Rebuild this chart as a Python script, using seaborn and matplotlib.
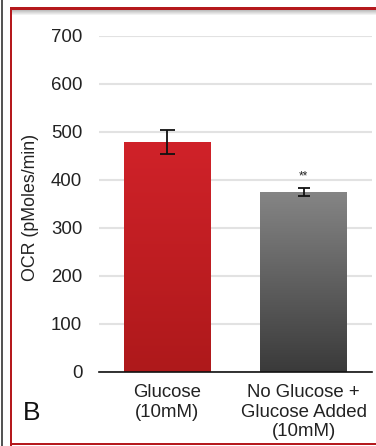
import numpy as np
import pandas as pd
import matplotlib
matplotlib.use("Agg")
import matplotlib.pyplot as plt
from matplotlib.patches import Rectangle
from matplotlib.colors import LinearSegmentedColormap
import seaborn as sns

# Oxygen consumption rate per condition
categories = ["Glucose\n(10mM)", "No Glucose +\nGlucose Added\n(10mM)"]
ocr_values = [478, 375]
ocr_errors = [25, 8]
significance = ["", "**"]
y_ticks = [0, 100, 200, 300, 400, 500, 600, 700]

sns.set_theme(style="white")
plt.rcParams["font.family"] = ["Liberation Sans", "DejaVu Sans"]

W, H = 376, 446
fig = plt.figure(figsize=(W / 100, H / 100), dpi=100)
ax = fig.add_axes([99 / W, 1 - 371.7 / H, (372 - 99) / W, (371.7 - 36) / H])

df = pd.DataFrame({"condition": categories, "ocr": ocr_values})
sns.barplot(data=df, x="condition", y="ocr", hue="condition",
            palette=["#c41e24", "#5e5e5e"], width=0.635, legend=False,
            errorbar=None, ax=ax, zorder=3)

# vertical gradient fill for each bar
gradients = [("#d02229", "#ae191b"), ("#858585", "#3a3a3a")]
for patch, (top, bottom) in zip(ax.patches, gradients):
    x0, y0 = patch.get_x(), patch.get_y()
    w, h = patch.get_width(), patch.get_height()
    cmap = LinearSegmentedColormap.from_list("g", [bottom, top])
    grad = np.linspace(0, 1, 256).reshape(-1, 1)
    im = ax.imshow(grad, cmap=cmap, origin="lower", aspect="auto",
                   extent=[x0, x0 + w, y0, y0 + h], zorder=3.5)
    im.set_clip_path(patch)
    patch.set_edgecolor("none")

for i, (v, e, cap) in enumerate(zip(ocr_values, ocr_errors, [5.4, 4.0])):
    ax.errorbar(i, v, yerr=e, fmt="none", ecolor="#111111", elinewidth=1.3,
                capsize=cap, capthick=1.3, zorder=5)
for i, (v, e, s) in enumerate(zip(ocr_values, ocr_errors, significance)):
    if s:
        ax.text(i, v + e + 12, s, ha="center", va="bottom", fontsize=8.5,
                color="#222222", zorder=6)

ax.set_xlim(-0.5, 1.5)
ax.set_ylim(0, 700)
ax.set_yticks(y_ticks)
ax.yaxis.grid(True, color="#e2e2e2", linewidth=1.5, zorder=0)
ax.set_axisbelow(True)
for side in ["left", "right", "top"]:
    ax.spines[side].set_visible(False)
ax.spines["bottom"].set_color("#111111")
ax.spines["bottom"].set_linewidth(1.2)
ax.spines["bottom"].set_zorder(6)
ax.tick_params(axis="both", length=0, labelsize=13.4, colors="#222222")
ax.tick_params(axis="y", pad=12)
ax.tick_params(axis="x", pad=9)
for lab in ax.get_xticklabels():
    lab.set_linespacing(1.2)
ax.set_xlabel("")
ax.set_ylabel("OCR (pMoles/min)", fontsize=12.8, color="#222222")
ax.yaxis.set_label_coords(-0.218, 0.49)

# panel letter
fig.text(22.5 / W, 1 - 413 / H, "B", fontsize=19, color="#111111", va="center", ha="left")

# panel frame
ft = fig.transFigure
fig.patches.append(Rectangle((1 / W, 0), 2 / W, 1, transform=ft,
                             facecolor="#555555", edgecolor="none"))
for k in range(6):
    fig.patches.append(Rectangle((11 / W, 1 - (10 + k) / H), 1, 1 / H, transform=ft,
                                 facecolor=str(0.70 + 0.05 * k), edgecolor="none"))
fig.patches.append(Rectangle((10 / W, 1 - 10 / H), 1, 3 / H, transform=ft,
                             facecolor="#b5191d", edgecolor="none"))
fig.patches.append(Rectangle((10 / W, 0), 2 / W, 1 - 7 / H, transform=ft,
                             facecolor="#b5191d", edgecolor="none"))
fig.patches.append(Rectangle((10 / W, 1 / H), 1, 2 / H, transform=ft,
                             facecolor="#b5191d", edgecolor="none"))

fig.savefig("out.png", dpi=100)
